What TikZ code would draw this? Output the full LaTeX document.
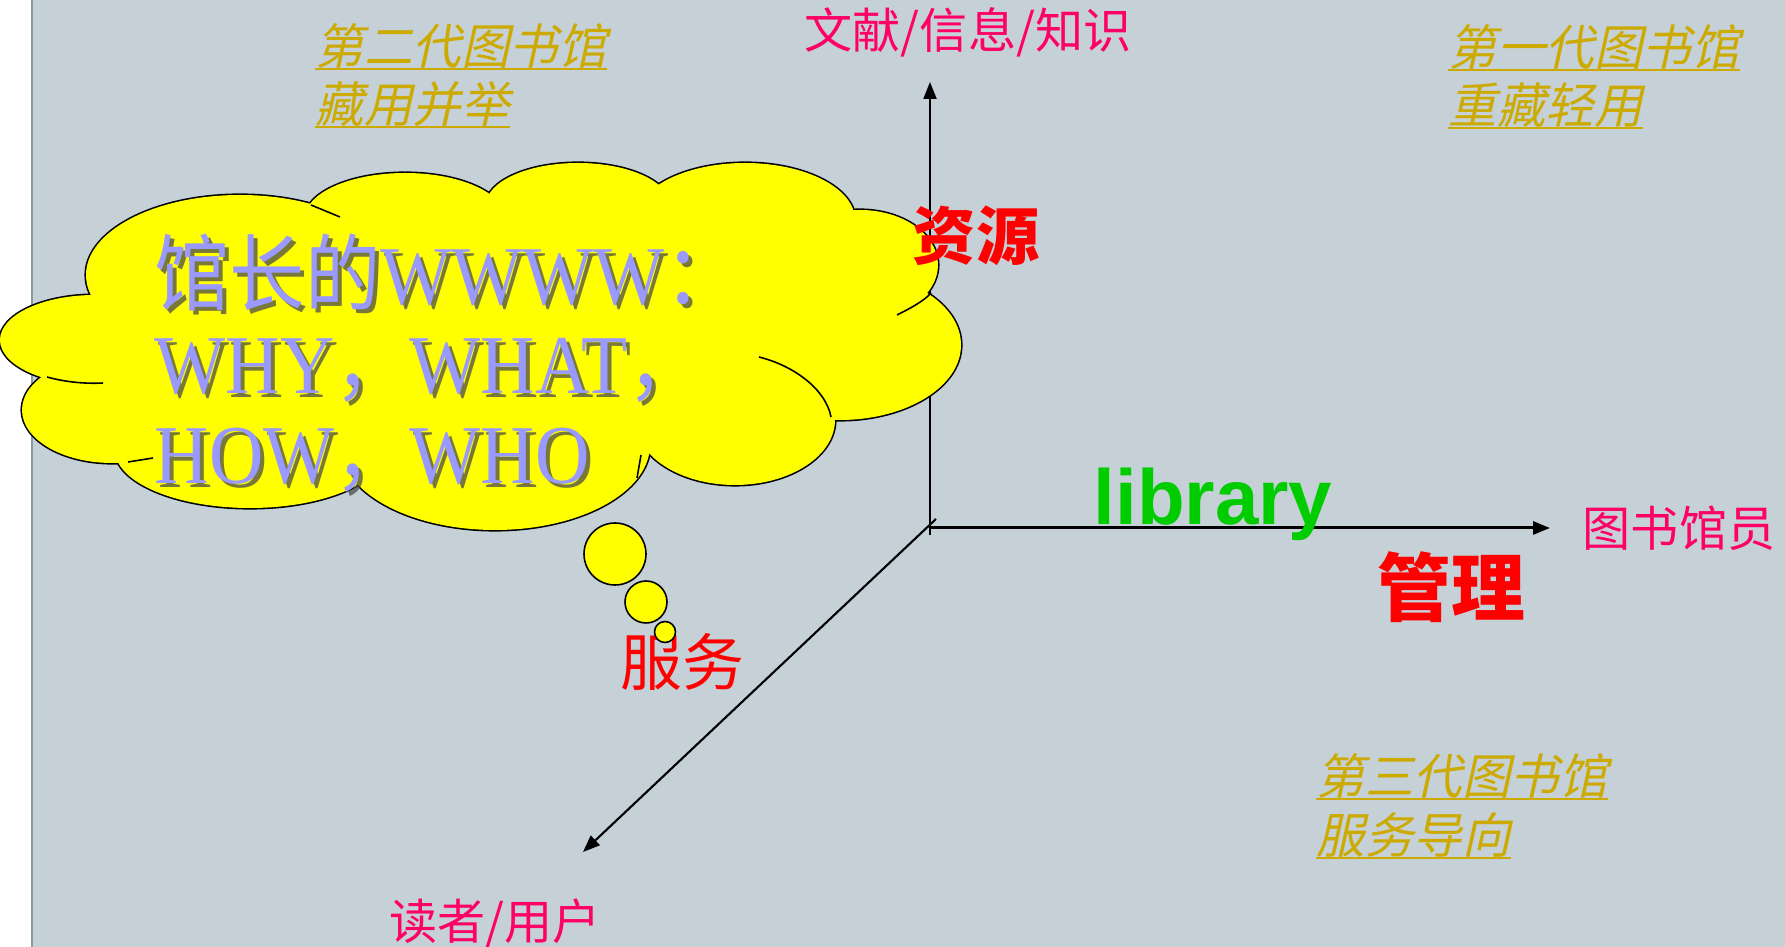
\documentclass[tikz,border=0pt]{standalone}
\usepackage{fontspec}
\setmainfont{Liberation Serif}
\newfontfamily\cjk{Noto Sans CJK SC}
\newfontfamily\cjkit[FakeSlant=0.22]{Noto Sans CJK SC}
\newfontfamily\lsans{Liberation Sans}
\newfontfamily\wwwlat[FakeStretch=0.9]{Liberation Serif}
\newfontfamily\wwwcjk[FakeStretch=0.9]{Noto Sans CJK SC}
\usetikzlibrary{arrows.meta}
\definecolor{slidebg}{RGB}{197,208,215}
\definecolor{slideedge}{RGB}{135,155,165}
\definecolor{axislbl}{RGB}{255,0,102}
\definecolor{genlbl}{RGB}{204,170,0}
\definecolor{libgreen}{RGB}{0,204,0}
\definecolor{wwwblue}{RGB}{153,153,255}
\definecolor{cloudfill}{RGB}{255,255,0}
\tikzset{
  axis/.style={line width=0.6pt,-{Triangle[length=1.7mm,width=1.3mm]}},
  axislabel/.style={text=axislbl,inner sep=0pt,font=\cjk\fontsize{13.7}{16}\selectfont},
  keyword/.style={text=red,inner sep=0pt},
  genlabel/.style={text=genlbl,inner sep=0pt,anchor=base west,font=\cjkit\fontsize{13.8}{16}\selectfont},
  genline/.style={draw=genlbl,line width=0.7pt},
  wwwtext/.style={text=wwwblue,inner sep=0pt,anchor=base west,font=\wwwlat\fontsize{23.8}{27}\selectfont},
  wwwshade/.style={wwwtext,text=black!70,opacity=0.75},
  bubble/.style={fill=cloudfill,draw=black,line width=0.45pt},
  innerarc/.style={draw=black,line width=0.45pt},
}
\begin{document}
\begin{tikzpicture}[x=0.1mm,y=-0.1mm]
\useasboundingbox (0,0) rectangle (1785,947);
\fill[white] (0,0) rectangle (1785,947);
\fill[slidebg] (32,0) rectangle (1785,947);
\draw[slideedge,line width=0.6pt] (32,0) -- (32,947);

\coordinate (vbot) at (930,535);
\coordinate (vtop) at (930,82);
\coordinate (o) at (930,528);
\coordinate (htip) at (1550,528);
\coordinate (dstart) at (936,519);
\coordinate (dtip) at (583,852);
\draw[axis] (vbot) -- (vtop);
\draw[axis,line width=0.85pt] (o) -- (htip);
\draw[axis] (dstart) -- (dtip);

\foreach \cx/\cy/\rx/\ry in {240/275/154/80,405/218/100/45,578/205/92/42,745/220/110/57,860/265/78/55,840/345/121/75,735/420/100/65,495/445/155/85,250/450/135/58,112/410/90/53,95/340/95/45}
  \draw[line width=0.9pt] (\cx,\cy) ellipse [x radius=\rx,y radius=\ry];
\foreach \cx/\cy/\rx/\ry in {240/275/154/80,405/218/100/45,578/205/92/42,745/220/110/57,860/265/78/55,840/345/121/75,735/420/100/65,495/445/155/85,250/450/135/58,112/410/90/53,95/340/95/45}
  \fill[cloudfill] (\cx,\cy) ellipse [x radius=\rx,y radius=\ry];
\fill[cloudfill] (240,275) -- (405,218) -- (578,205) -- (745,220) -- (860,265) -- (840,345) -- (735,420) -- (495,445) -- (255,455) -- (112,410) -- (95,340) -- cycle;
\draw[innerarc] (759,357) .. controls (795,366) and (826,390) .. (831,417);
\draw[innerarc] (897,315) .. controls (913,307) and (925,300) .. (931,293);
\draw[innerarc] (47,377) .. controls (65,382) and (85,384) .. (103,383);
\draw[innerarc] (128,462) -- (153,458);
\draw[innerarc] (641,455) -- (637,478);
\draw[innerarc] (311,205) -- (340,217);

\node[wwwshade] (www1s) at (158,309) {{\wwwcjk 馆长的}WWWW{\wwwcjk ：}};
\node[wwwtext] (www1) at (154,305) {{\wwwcjk 馆长的}WWWW{\wwwcjk ：}};
\node[wwwshade] (www2s) at (158,398) {WHY{\wwwcjk ，}WHAT{\wwwcjk ，}};
\node[wwwtext] (www2) at (154,394) {WHY{\wwwcjk ，}WHAT{\wwwcjk ，}};
\node[wwwshade] (www3s) at (158,488) {HOW{\wwwcjk ，}WHO};
\node[wwwtext] (www3) at (154,484) {HOW{\wwwcjk ，}WHO};

\node[keyword,font=\cjk\fontsize{17.6}{20}\selectfont] (fuwu) at (682,662) {服务};
\draw[bubble] (615,554) circle [radius=31];
\draw[bubble] (646,602) circle [radius=21];
\draw[bubble] (665,632) circle [radius=10.5];

\node[keyword,font=\cjk\bfseries\fontsize{18}{20}\selectfont] (ziyuan) at (976,236) {资源};
\node[keyword,font=\cjk\bfseries\fontsize{21}{24}\selectfont] (guanli) at (1451,587) {管理};
\node[text=libgreen,inner sep=0pt,anchor=base west,font=\lsans\bfseries\fontsize{22.2}{26}\selectfont] (library) at (1093,525) {library};

\node[axislabel] (wenxian) at (968,32) {文献/信息/知识};
\node[axislabel] (guanyuan) at (1679,528) {图书馆员};
\node[axislabel] (duzhe) at (495,923) {读者/用户};

\node[genlabel] (g2a) at (315,65) {第二代图书馆};
\node[genlabel] (g2b) at (315,123) {藏用并举};
\node[genlabel] (g1a) at (1448,66) {第一代图书馆};
\node[genlabel] (g1b) at (1448,124) {重藏轻用};
\node[genlabel] (g3a) at (1316,795) {第三代图书馆};
\node[genlabel] (g3b) at (1316,854) {服务导向};
\foreach \g in {g2a,g2b,g1a,g1b,g3a,g3b}
  \draw[genline] ([yshift=-1.1pt]\g.base west) -- ([yshift=-1.1pt]\g.base east);
\end{tikzpicture}
\end{document}
